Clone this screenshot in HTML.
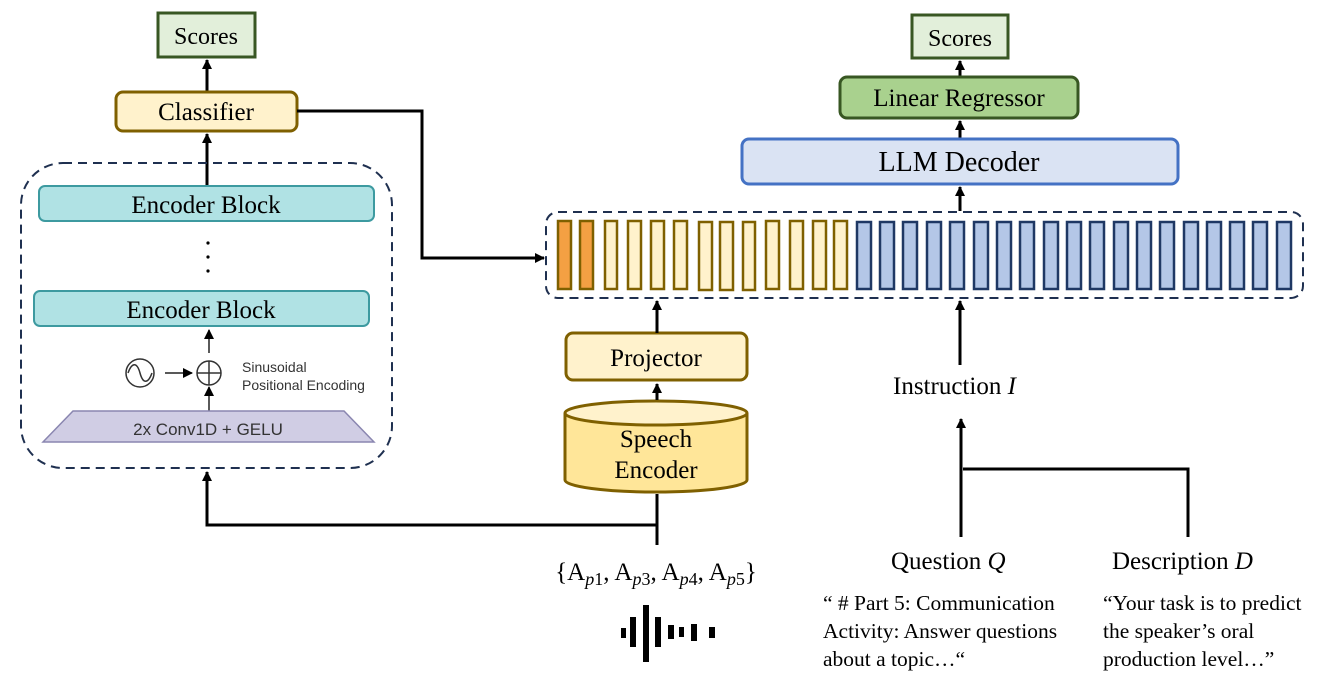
<!DOCTYPE html>
<html><head><meta charset="utf-8"><style>
html,body{margin:0;padding:0;background:#fff;}
svg{display:block;}
.s{font-family:"Liberation Serif",serif;fill:#000;}
.a{font-family:"Liberation Sans",sans-serif;fill:#333;}
</style></head><body>
<svg width="1323" height="683" viewBox="0 0 1323 683" xmlns="http://www.w3.org/2000/svg">
<defs>
<marker id="ar" markerWidth="10" markerHeight="10" refX="9" refY="5" orient="auto" markerUnits="userSpaceOnUse">
<path d="M0,0 L10,5 L0,10 z" fill="#000"/></marker>
</defs>

<!-- LEFT -->
<rect x="158" y="13" width="97" height="44" fill="#e2efda" stroke="#385723" stroke-width="3"/>
<text x="206" y="44" text-anchor="middle" class="s" font-size="24">Scores</text>
<line x1="207" y1="91" x2="207" y2="60" stroke="#000" stroke-width="3" marker-end="url(#ar)"/>
<rect x="116" y="92" width="181" height="39" rx="7" fill="#fff2cc" stroke="#7f6000" stroke-width="3"/>
<text x="206" y="120" text-anchor="middle" class="s" font-size="25">Classifier</text>
<line x1="207" y1="185" x2="207" y2="134" stroke="#000" stroke-width="3" marker-end="url(#ar)"/>

<rect x="21" y="163" width="371" height="305" rx="42" fill="none" stroke="#1f3050" stroke-width="2" stroke-dasharray="9,6"/>
<rect x="39" y="186" width="335" height="35" rx="6" fill="#b0e2e4" stroke="#3d9aa0" stroke-width="2"/>
<text x="206" y="213" text-anchor="middle" class="s" font-size="25">Encoder Block</text>
<circle cx="208" cy="243" r="1.6" fill="#000"/><circle cx="208" cy="257" r="1.6" fill="#000"/><circle cx="208" cy="271" r="1.6" fill="#000"/>
<rect x="34" y="291" width="335" height="35" rx="6" fill="#b0e2e4" stroke="#3d9aa0" stroke-width="2"/>
<text x="201" y="318" text-anchor="middle" class="s" font-size="25">Encoder Block</text>

<line x1="209" y1="353" x2="209" y2="330" stroke="#222" stroke-width="1.5" marker-end="url(#ar)"/>
<circle cx="140" cy="373" r="14" fill="none" stroke="#333" stroke-width="1.5"/>
<path d="M128,373 C132,362 137,362 140,373 C143,384 148,384 152,373" fill="none" stroke="#333" stroke-width="1.5"/>
<line x1="165" y1="373" x2="192" y2="373" stroke="#222" stroke-width="1.5" marker-end="url(#ar)"/>
<circle cx="209" cy="373" r="12" fill="none" stroke="#333" stroke-width="1.5"/>
<line x1="197" y1="373" x2="221" y2="373" stroke="#333" stroke-width="1.5"/>
<line x1="209" y1="361" x2="209" y2="385" stroke="#333" stroke-width="1.5"/>
<line x1="209" y1="411" x2="209" y2="387" stroke="#222" stroke-width="1.5" marker-end="url(#ar)"/>
<text x="242" y="372" class="a" font-size="14">Sinusoidal</text>
<text x="242" y="390" class="a" font-size="14">Positional Encoding</text>
<polygon points="73,411 344,411 374,442 43,442" fill="#d0cde4" stroke="#8a86b0" stroke-width="1.5"/>
<text x="208" y="435" text-anchor="middle" class="a" font-size="17" fill="#222">2x Conv1D + GELU</text>

<polyline points="297,111 422,111 422,258 544,258" fill="none" stroke="#000" stroke-width="3" marker-end="url(#ar)"/>

<polyline points="657,545 657,525 207,525 207,472" fill="none" stroke="#000" stroke-width="3" marker-end="url(#ar)"/>
<line x1="657" y1="527" x2="657" y2="494" stroke="#000" stroke-width="3"/>

<path d="M565,413 L565,480 A91,12 0 0 0 747,480 L747,413" fill="#ffe699" stroke="#7f6000" stroke-width="3"/>
<ellipse cx="656" cy="413" rx="91" ry="12" fill="#fff2cc" stroke="#7f6000" stroke-width="3"/>
<text x="656" y="447" text-anchor="middle" class="s" font-size="25">Speech</text>
<text x="656" y="478" text-anchor="middle" class="s" font-size="25">Encoder</text>
<line x1="657" y1="400" x2="657" y2="384" stroke="#000" stroke-width="3" marker-end="url(#ar)"/>
<rect x="566" y="333" width="181" height="47" rx="7" fill="#fff2cc" stroke="#7f6000" stroke-width="3"/>
<text x="656" y="366" text-anchor="middle" class="s" font-size="25">Projector</text>
<line x1="657" y1="333" x2="657" y2="301" stroke="#000" stroke-width="3" marker-end="url(#ar)"/>

<text x="656" y="580" text-anchor="middle" class="s" font-size="25">{A<tspan font-style="italic" font-size="18" dy="5">p</tspan><tspan font-size="18">1</tspan><tspan dy="-5">, A</tspan><tspan font-style="italic" font-size="18" dy="5">p</tspan><tspan font-size="18">3</tspan><tspan dy="-5">, A</tspan><tspan font-style="italic" font-size="18" dy="5">p</tspan><tspan font-size="18">4</tspan><tspan dy="-5">, A</tspan><tspan font-style="italic" font-size="18" dy="5">p</tspan><tspan font-size="18">5</tspan><tspan dy="-5">}</tspan></text>
<g fill="#000">
<rect x="621" y="628" width="5" height="10"/>
<rect x="630" y="617" width="6" height="30"/>
<rect x="643" y="605" width="6" height="57"/>
<rect x="655" y="617" width="6" height="30"/>
<rect x="668" y="625" width="6" height="14"/>
<rect x="679" y="627" width="5" height="10"/>
<rect x="691" y="624" width="6" height="17"/>
<rect x="709" y="627" width="6" height="11"/>
</g>

<rect x="546" y="212" width="757" height="86" rx="12" fill="none" stroke="#1f3050" stroke-width="2" stroke-dasharray="9,6"/>
<g stroke-width="2.5">
<rect x="558" y="221" width="13" height="68" fill="#f4a043" stroke="#7f6000"/>
<rect x="580" y="221" width="13" height="68" fill="#f4a043" stroke="#7f6000"/>
<g fill="#fff2cc" stroke="#7f6000">
<rect x="605" y="221" width="12" height="68"/><rect x="628" y="221" width="13" height="68"/><rect x="651" y="221" width="13" height="68"/><rect x="674" y="221" width="13" height="68"/><rect x="699" y="222" width="13" height="68"/><rect x="720" y="222" width="13" height="68"/><rect x="743" y="222" width="12" height="68"/><rect x="766" y="221" width="13" height="68"/><rect x="790" y="221" width="13" height="68"/><rect x="813" y="221" width="13" height="68"/><rect x="834" y="221" width="13" height="68"/>
</g>
<g fill="#b4c7e7" stroke="#1f3864">
<rect x="857" y="222" width="14" height="67"/><rect x="880" y="222" width="14" height="67"/><rect x="903" y="222" width="14" height="67"/><rect x="927" y="222" width="14" height="67"/><rect x="950" y="222" width="14" height="67"/><rect x="974" y="222" width="14" height="67"/><rect x="997" y="222" width="14" height="67"/><rect x="1020" y="222" width="14" height="67"/><rect x="1044" y="222" width="14" height="67"/><rect x="1067" y="222" width="14" height="67"/><rect x="1090" y="222" width="14" height="67"/><rect x="1114" y="222" width="14" height="67"/><rect x="1137" y="222" width="14" height="67"/><rect x="1160" y="222" width="14" height="67"/><rect x="1184" y="222" width="14" height="67"/><rect x="1207" y="222" width="14" height="67"/><rect x="1230" y="222" width="14" height="67"/><rect x="1253" y="222" width="14" height="67"/><rect x="1277" y="222" width="14" height="67"/>
</g>
</g>

<!-- RIGHT -->
<rect x="912" y="15" width="96" height="43" fill="#e2efda" stroke="#385723" stroke-width="3"/>
<text x="960" y="46" text-anchor="middle" class="s" font-size="24">Scores</text>
<line x1="960" y1="76" x2="960" y2="61" stroke="#000" stroke-width="3" marker-end="url(#ar)"/>
<rect x="840" y="77" width="238" height="41" rx="7" fill="#a9d18e" stroke="#385723" stroke-width="3"/>
<text x="959" y="106" text-anchor="middle" class="s" font-size="25">Linear Regressor</text>
<line x1="960" y1="138" x2="960" y2="121" stroke="#000" stroke-width="3" marker-end="url(#ar)"/>
<rect x="742" y="139" width="436" height="45" rx="7" fill="#dae3f3" stroke="#4472c4" stroke-width="3"/>
<text x="959" y="171" text-anchor="middle" class="s" font-size="28">LLM Decoder</text>
<line x1="960" y1="211" x2="960" y2="187" stroke="#000" stroke-width="3" marker-end="url(#ar)"/>

<line x1="960" y1="365" x2="960" y2="301" stroke="#000" stroke-width="3" marker-end="url(#ar)"/>
<text x="893" y="394" class="s" font-size="25">Instruction <tspan font-style="italic">I</tspan></text>
<line x1="961" y1="537" x2="961" y2="419" stroke="#000" stroke-width="3" marker-end="url(#ar)"/>
<polyline points="963,469 1188,469 1188,537" fill="none" stroke="#000" stroke-width="3"/>

<text x="891" y="569" class="s" font-size="25">Question <tspan font-style="italic">Q</tspan></text>
<text x="1112" y="569" class="s" font-size="25">Description <tspan font-style="italic">D</tspan></text>
<g class="s" font-size="21.5">
<text x="823" y="610">“ # Part 5: Communication</text>
<text x="823" y="638">Activity: Answer questions</text>
<text x="823" y="666">about a topic…“</text>
<text x="1103" y="610">“Your task is to predict</text>
<text x="1103" y="638">the speaker’s oral</text>
<text x="1103" y="666">production level…”</text>
</g>
</svg>
</body></html>
